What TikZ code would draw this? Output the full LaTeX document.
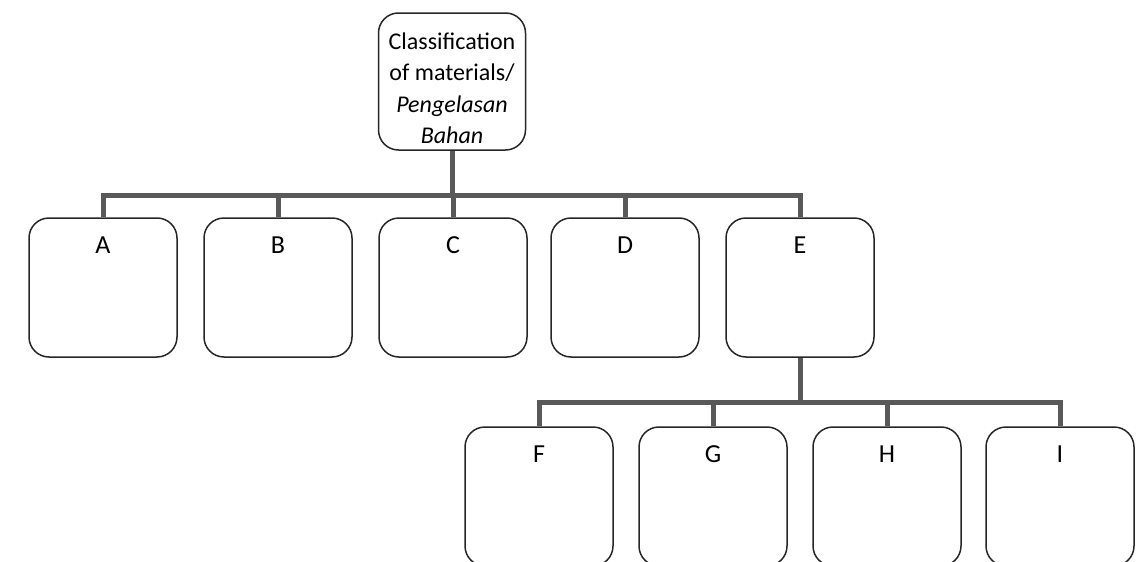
\documentclass[tikz,border=0pt]{standalone}
\usepackage{fontspec}
\setmainfont{Carlito}
\usetikzlibrary{positioning}
\begin{document}
\begin{tikzpicture}[x=0.5pt,y=-0.5pt]
\useasboundingbox (0,0) rectangle (1147,562);
\tikzstyle{box}=[rectangle, draw=black!85, line width=0.75pt, rounded corners=10pt,
    minimum width=74pt, inner ysep=9pt, text height=8.6pt, text depth=42.9pt,
    font=\fontsize{13}{15}\selectfont]
\tikzstyle{topbox}=[rectangle, draw=black!85, line width=0.75pt, rounded corners=10pt,
    minimum width=73.5pt, minimum height=68.5pt, inner sep=1pt, align=center,
    font=\fontsize{12}{15.7}\selectfont]
\tikzstyle{link}=[draw=black!65, line width=2.5pt]

\node[topbox] (cls) at (452,81.5) {\rule{0pt}{15pt}Classification\\of materials/\\\textit{Pengelasan}\\\textit{Bahan}};

% first level
\foreach \n/\x in {A/103,B/278,C/453,D/625,E/800}
    \node[box] (\n) at (\x,287.5) {\n};
% second level under E
\foreach \n/\x in {F/539,G/713,H/887,I/1060}
    \node[box] (\n) at (\x,496.5) {\n};

\coordinate (bar1) at (0,195);
\coordinate (bar2) at (0,402);

\draw[link] (cls.south) -- (cls.south |- bar1);
\draw[link] (A.north) -- (A.north |- bar1) -- (E.north |- bar1) -- (E.north);
\foreach \n in {B,C,D}
    \draw[link] (\n.north |- bar1) -- (\n.north);

\draw[link] (E.south) -- (E.south |- bar2);
\draw[link] (F.north) -- (F.north |- bar2) -- (I.north |- bar2) -- (I.north);
\foreach \n in {G,H}
    \draw[link] (\n.north |- bar2) -- (\n.north);
\end{tikzpicture}
\end{document}
